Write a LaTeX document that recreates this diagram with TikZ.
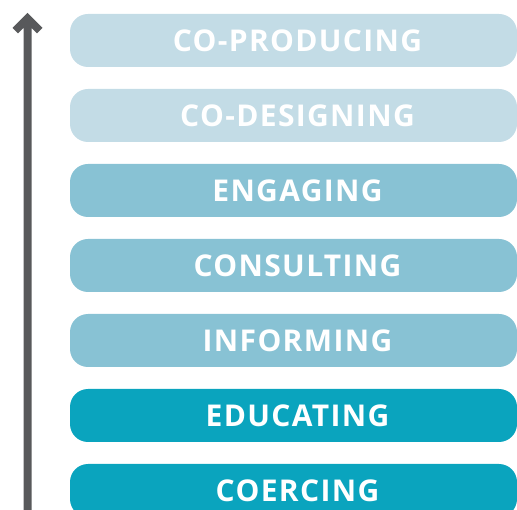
\documentclass[tikz,border=0pt]{standalone}
\usepackage{fontspec}
\newfontfamily\barfont[LetterSpace=4.5]{Open Sans Bold}
\definecolor{lightbar}{HTML}{C3DCE6}
\definecolor{midbar}{HTML}{88C2D4}
\definecolor{darkbar}{HTML}{0AA4BE}
\definecolor{arrowgray}{HTML}{58595B}
\tikzset{
  barbox/.style={rounded corners=18pt, draw=none},
  bartext/.style={text=white, font=\barfont\fontsize{30}{32}\selectfont, anchor=center, inner sep=0pt}
}
\begin{document}
\begin{tikzpicture}[x=1pt,y=-1pt]
\useasboundingbox (0,0) rectangle (517,510);
\clip (0,0) rectangle (517,510);
\fill[arrowgray] (23.5,520) -- (23.5,28) -- (18,33.5) -- (12.5,28) -- (27.5,13) -- (42.5,28) -- (37,33.5) -- (31.5,28) -- (31.5,520) -- cycle;
\foreach \i/\c/\t in {0/lightbar/CO-PRODUCING,1/lightbar/CO-DESIGNING,2/midbar/ENGAGING,3/midbar/CONSULTING,4/midbar/INFORMING,5/darkbar/EDUCATING,6/darkbar/COERCING}{
  \fill[barbox, \c] (70,{14+75*\i}) rectangle (517,{67+75*\i});
  \node[bartext] (b\i) at (297.5,{41+75*\i}) {\t};
}
\end{tikzpicture}
\end{document}
